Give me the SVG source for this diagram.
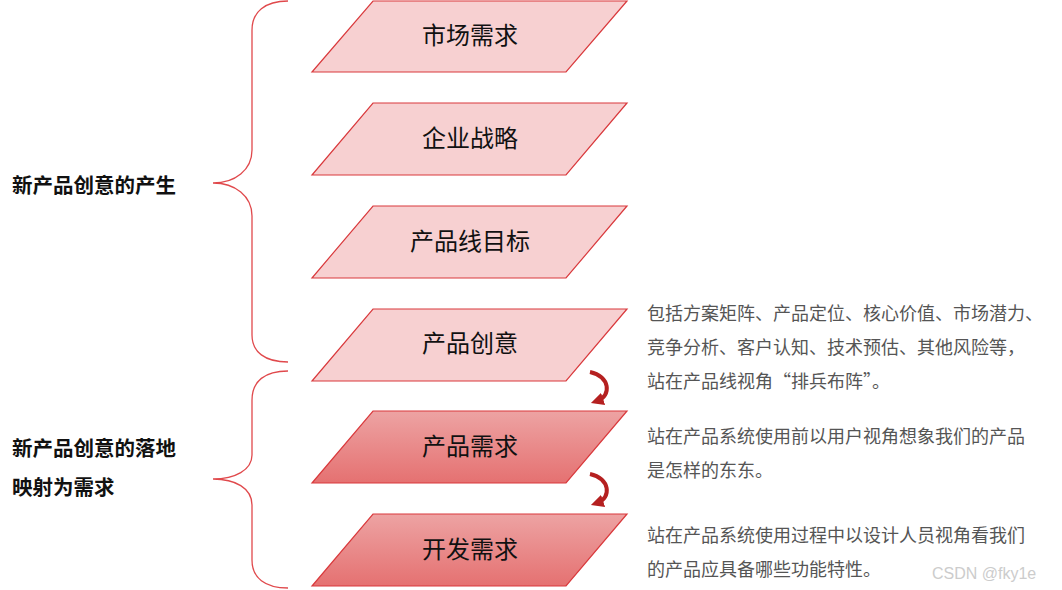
<svg xmlns="http://www.w3.org/2000/svg" width="1062" height="590" viewBox="0 0 1062 590">
<style>
.p{stroke:#d9393c;stroke-width:1.2}
.l{fill:#f7d0d1}
.d{fill:url(#g)}
.t{font-family:"Noto Sans CJK SC",sans-serif;font-size:24px;text-anchor:middle;fill:#111}
.s{font-family:"Noto Sans CJK SC",sans-serif;font-size:20.5px;font-weight:bold;fill:#111}
.r{font-family:"Noto Sans CJK SC",sans-serif;font-size:18px;fill:#555}
.b{fill:none;stroke:#e0494c;stroke-width:1.3}
</style>
<defs>
<linearGradient id="g" x1="0" y1="0" x2="0" y2="1"><stop offset="0" stop-color="#eda3a3"/><stop offset="1" stop-color="#e57171"/></linearGradient>
<marker id="ah" viewBox="0 0 10 10" refX="5" refY="5" markerWidth="3.2" markerHeight="3.2" orient="auto"><path d="M0,0L10,5L0,10z" fill="#b52020"/></marker>
</defs>
<g id="n1"><path class="p l" d="M373,1H627L566,72H312Z"/><text class="t" x="470" y="44">市场需求</text></g>
<g id="n2"><path class="p l" d="M373,103H627L566,175H312Z"/><text class="t" x="470" y="147">企业战略</text></g>
<g id="n3"><path class="p l" d="M373,206H627L566,278H312Z"/><text class="t" x="470" y="250">产品线目标</text></g>
<g id="n4"><path class="p l" d="M373,309H627L566,381H312Z"/><text class="t" x="470" y="352">产品创意</text></g>
<g id="n5"><path class="p d" d="M373,411H627L566,483H312Z"/><text class="t" x="470" y="455">产品需求</text></g>
<g id="n6"><path class="p d" d="M373,514H627L566,586H312Z"/><text class="t" x="470" y="558">开发需求</text></g>
<g id="braces">
<path class="b" d="M288,1C265,1 252,12 252,30V150C252,170 235,183 213,183C235,183 252,196 252,216V335C252,352 265,362 288,362"/>
<path class="b" d="M288,371C265,371 252,381 252,400V455C252,470 235,479 213,479C235,479 252,488 252,505V560C252,578 265,588 288,588"/>
</g>
<g id="connectors" fill="none" stroke="#b52020" stroke-width="4">
<path d="M590,372C610,376 612,396 597,401" marker-end="url(#ah)"/>
<path d="M590,474C610,478 612,498 597,503" marker-end="url(#ah)"/>
</g>
<g id="labels">
<text class="s" x="12" y="193">新产品创意的产生</text>
<text class="s" x="12" y="456">新产品创意的落地</text>
<text class="s" x="12" y="495">映射为需求</text>
<text class="r" x="647" y="320">包括方案矩阵、产品定位、核心价值、市场潜力、</text>
<text class="r" x="647" y="354">竞争分析、客户认知、技术预估、其他风险等，</text>
<text class="r" x="647" y="388">站在产品线视角“排兵布阵”。</text>
<text class="r" x="647" y="443">站在产品系统使用前以用户视角想象我们的产品</text>
<text class="r" x="647" y="477">是怎样的东东。</text>
<text class="r" x="647" y="542">站在产品系统使用过程中以设计人员视角看我们</text>
<text class="r" x="647" y="576">的产品应具备哪些功能特性。</text>
<text x="932" y="579" font-family="Liberation Sans,sans-serif" font-size="16" fill="#ccc">CSDN @fky1e</text>
</g>
</svg>
